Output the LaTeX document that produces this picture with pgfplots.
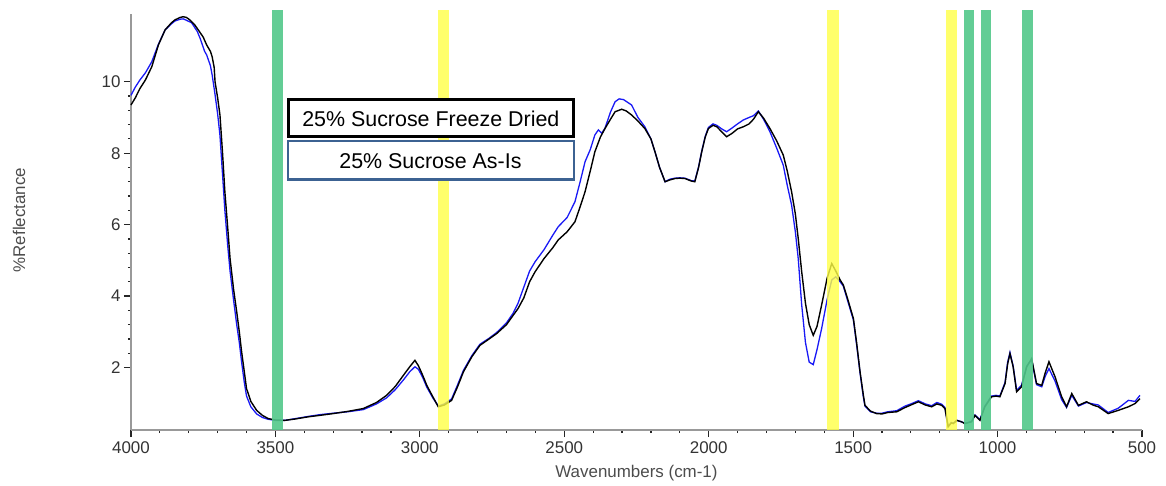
\documentclass[border=0pt]{standalone}
\usepackage{pgfplots}
\pgfplotsset{compat=1.18}
\usepackage{pgfplotstable}
\usepackage{fontspec}
\setmainfont{Liberation Sans}
\definecolor{bandgreen}{RGB}{82,200,138}
\definecolor{bandyellow}{RGB}{255,255,70}
\definecolor{boxblue}{RGB}{60,98,146}
\definecolor{specblue}{RGB}{25,25,245}

\pgfplotstableread{
wn y
4000 9.35
3985 9.55
3969 9.81
3950 10.05
3928 10.42
3905 11.03
3882 11.45
3860 11.65
3848 11.73
3830 11.80
3819 11.82
3808 11.80
3796 11.73
3780 11.60
3767 11.45
3750 11.25
3738 11.03
3725 10.85
3719 10.70
3712 10.40
3709 10.00
3700 9.55
3692 9.07
3683 8.00
3675 6.92
3665 5.90
3657 5.05
3645 4.20
3634 3.56
3625 3.00
3617 2.44
3608 1.90
3600 1.41
3585 1.05
3565 0.80
3545 0.66
3525 0.57
3500 0.53
3467 0.52
3430 0.56
3386 0.62
3346 0.66
3300 0.71
3250 0.77
3196 0.85
3150 1.02
3115 1.22
3085 1.47
3057 1.78
3035 2.02
3017 2.20
3005 2.05
2990 1.78
2976 1.50
2955 1.18
2936 0.90
2915 0.95
2890 1.08
2870 1.45
2849 1.88
2820 2.30
2792 2.62
2760 2.80
2734 2.95
2700 3.20
2677 3.46
2660 3.65
2640 3.95
2620 4.40
2601 4.68
2570 5.05
2540 5.35
2521 5.57
2490 5.80
2463 6.08
2445 6.50
2428 6.92
2410 7.50
2394 8.04
2375 8.45
2359 8.69
2340 8.95
2324 9.16
2301 9.23
2285 9.18
2267 9.07
2245 8.90
2221 8.69
2200 8.40
2186 8.04
2170 7.60
2151 7.20
2135 7.25
2117 7.29
2100 7.30
2082 7.29
2060 7.22
2048 7.20
2035 7.60
2024 8.04
2012 8.45
2001 8.69
1985 8.78
1972 8.74
1955 8.60
1938 8.46
1920 8.55
1900 8.68
1880 8.74
1860 8.82
1845 8.95
1828 9.16
1810 8.98
1788 8.69
1765 8.35
1742 7.95
1728 7.50
1713 6.92
1700 6.30
1690 5.61
1678 4.68
1665 3.80
1652 3.20
1638 2.90
1625 3.15
1609 3.75
1590 4.50
1574 4.91
1560 4.70
1545 4.45
1534 4.31
1520 3.95
1499 3.37
1488 2.70
1476 1.88
1465 1.25
1459 0.94
1440 0.78
1419 0.71
1400 0.70
1380 0.74
1349 0.76
1320 0.88
1300 0.95
1274 1.04
1250 0.95
1228 0.90
1210 0.98
1193 0.94
1182 0.85
1171 0.34
1160 0.45
1153 0.43
1141 0.52
1125 0.48
1113 0.43
1090 0.48
1078 0.66
1061 0.52
1044 0.90
1021 1.18
1005 1.20
992 1.18
974 1.55
965 2.10
957 2.39
946 2.02
934 1.32
917 1.46
899 2.02
882 2.25
865 1.55
847 1.50
835 1.85
822 2.16
801 1.74
778 1.18
761 0.90
743 1.27
720 0.94
692 1.04
670 0.95
651 0.90
617 0.71
582 0.80
547 0.90
524 0.99
507 1.13
}\freezedried

\pgfplotstableread{
wn y
4000 9.62
3985 9.85
3969 10.05
3950 10.25
3928 10.56
3905 11.05
3882 11.45
3860 11.62
3848 11.70
3830 11.75
3819 11.76
3808 11.72
3790 11.65
3770 11.40
3760 11.20
3745 10.85
3738 10.75
3725 10.45
3719 10.19
3710 9.70
3700 9.10
3692 8.50
3683 7.40
3675 6.40
3665 5.40
3657 4.70
3645 3.90
3634 3.20
3625 2.70
3617 2.15
3608 1.60
3600 1.20
3585 0.90
3565 0.70
3545 0.60
3525 0.55
3500 0.52
3467 0.52
3430 0.57
3386 0.63
3346 0.68
3300 0.72
3250 0.76
3196 0.82
3150 0.98
3115 1.15
3085 1.38
3057 1.65
3035 1.88
3017 2.02
3005 1.95
2990 1.72
2976 1.45
2955 1.15
2936 0.92
2915 0.98
2890 1.12
2870 1.50
2849 1.92
2820 2.33
2792 2.65
2760 2.82
2734 2.98
2700 3.25
2677 3.52
2660 3.80
2640 4.25
2620 4.70
2601 4.96
2570 5.30
2540 5.70
2521 5.94
2490 6.20
2463 6.64
2445 7.20
2428 7.76
2410 8.10
2394 8.51
2382 8.65
2370 8.56
2359 8.70
2340 9.15
2324 9.44
2310 9.52
2295 9.50
2267 9.35
2245 9.00
2221 8.74
2200 8.40
2186 8.04
2170 7.60
2151 7.20
2135 7.27
2117 7.30
2100 7.31
2082 7.30
2060 7.23
2048 7.22
2035 7.62
2024 8.06
2012 8.47
2001 8.72
1985 8.82
1972 8.78
1955 8.68
1938 8.60
1920 8.70
1900 8.82
1880 8.93
1860 9.00
1845 9.05
1828 9.18
1810 8.95
1788 8.60
1765 8.15
1742 7.67
1728 7.10
1713 6.55
1700 5.80
1690 5.05
1678 3.75
1665 2.70
1652 2.15
1638 2.08
1625 2.50
1609 3.09
1590 3.90
1574 4.45
1560 4.54
1545 4.40
1534 4.28
1520 3.90
1499 3.33
1488 2.65
1476 1.85
1465 1.20
1459 0.92
1440 0.76
1419 0.72
1400 0.72
1380 0.76
1349 0.79
1320 0.92
1300 0.98
1274 1.07
1250 0.98
1228 0.93
1210 1.02
1193 0.97
1182 0.88
1171 0.36
1160 0.46
1153 0.44
1141 0.52
1125 0.48
1113 0.44
1090 0.49
1078 0.67
1061 0.54
1044 0.92
1021 1.20
1005 1.22
992 1.20
974 1.58
965 2.15
957 2.42
946 2.04
934 1.36
917 1.50
899 2.04
882 2.22
865 1.52
847 1.46
835 1.75
822 1.97
801 1.62
778 1.10
761 0.88
743 1.22
720 0.92
692 1.02
670 0.98
651 0.95
617 0.74
582 0.86
547 1.08
524 1.05
507 1.22
}\asis

\begin{document}
\begin{tikzpicture}
\useasboundingbox (-131bp,-56bp) rectangle (1035bp,430bp);
\begin{axis}[
  scale only axis, width=1011bp, height=419.7bp,
  x dir=reverse, xmin=500, xmax=4000, ymin=0.25, ymax=12,
  xtick={500,1000,...,4000}, ytick={2,4,6,8,10},
  minor x tick num=4, minor y tick num=4,
  axis line style={draw=none},
  xtick pos=left, ytick pos=left,
  tick align=outside,
  major tick length=7bp, minor tick length=3bp,
  every tick/.style={black!85, line width=1.2bp},
  /pgf/number format/assume math mode=true,
  /pgf/number format/1000 sep={},
  tick label style={font=\fontsize{17}{20}\selectfont, text=black!80},
  xticklabel style={yshift=-1bp},
  xlabel={Wavenumbers (cm-1)},
  ylabel={\%Reflectance},
  every axis y label/.style={at={(axis description cs:0,0.5)}, xshift=-112bp, rotate=90, anchor=center, font=\fontsize{17}{20}\selectfont, text=black!70},
  every axis x label/.style={at={(axis description cs:0.5,0)}, yshift=-43bp, anchor=center, font=\fontsize{17}{20}\selectfont, text=black!70},
  clip=false,
]
\draw[line width=1.8bp, black!40] (axis description cs:0,0) -- (axis description cs:1,0);
\draw[line width=1.8bp, black!40] (axis description cs:0,0) -- (axis description cs:0,0.99);

\addplot[specblue, line width=1.3bp] table[x=wn, y=y] {\asis};
\addplot[black, line width=1.4bp] table[x=wn, y=y] {\freezedried};

\fill[bandgreen, opacity=0.9] (axis cs:3512,0.25) rectangle (axis cs:3475,12);
\fill[bandgreen, opacity=0.9] (axis cs:1115,0.25) rectangle (axis cs:1080,12);
\fill[bandgreen, opacity=0.9] (axis cs:1059,0.25) rectangle (axis cs:1023,12);
\fill[bandgreen, opacity=0.9] (axis cs:914,0.25) rectangle (axis cs:877,12);
\fill[bandyellow, opacity=0.8] (axis cs:2936,0.25) rectangle (axis cs:2898,12);
\fill[bandyellow, opacity=0.8] (axis cs:1590,0.25) rectangle (axis cs:1548,12);
\fill[bandyellow, opacity=0.8] (axis cs:1177,0.25) rectangle (axis cs:1139,12);

\draw[line width=3bp, fill=white] (axis description cs:0.1554,0.7867) rectangle (axis description cs:0.4377,0.6986);
\draw[line width=2.5bp, boxblue, fill=white] (axis description cs:0.1552,0.688) rectangle (axis description cs:0.4380,0.597);
\node[anchor=base, font=\fontsize{21.5}{24}\selectfont, inner sep=0pt] at (axis description cs:0.2966,0.7243) {25\% Sucrose Freeze Dried};
\node[anchor=base, font=\fontsize{21.5}{24}\selectfont, inner sep=0pt] at (axis description cs:0.2962,0.6235) {25\% Sucrose As-Is};
\end{axis}
\end{tikzpicture}
\end{document}
